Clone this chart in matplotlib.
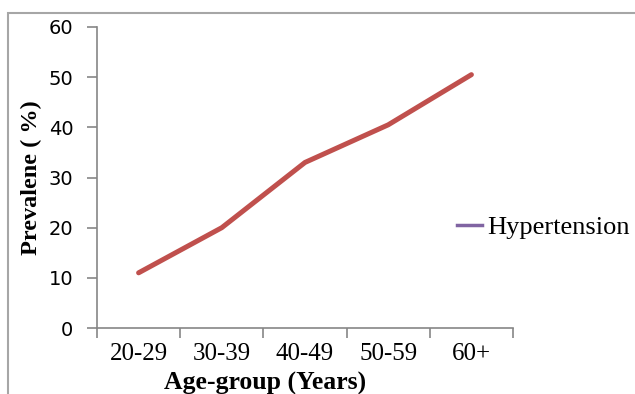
import matplotlib
matplotlib.use('Agg')
from matplotlib import pyplot as plt
from matplotlib.patches import Rectangle
from matplotlib.lines import Line2D

age_groups = ['20-29', '30-39', '40-49', '50-59', '60+']
prevalence = [11, 20, 33, 40.5, 50.5]

fig = plt.figure(figsize=(6.35, 3.94), dpi=100)
fig.patch.set_facecolor('white')

# outer chart frame (runs off the right and bottom edges)
frame = Rectangle((8 / 635, -0.1), 1.0, 1 - 13 / 394 + 0.1, transform=fig.transFigure,
                  fill=False, edgecolor='#a6a6a6', linewidth=1.5)
fig.patches.append(frame)

ax = fig.add_axes([97 / 635, 1 - 328 / 394, 416 / 635, 301 / 394])
x = range(len(age_groups))
ax.plot(x, prevalence, color='#c0504d', linewidth=3.6, solid_capstyle='round')

ax.set_xlim(-0.5, len(age_groups) - 0.5)
ax.set_ylim(0, 60)
ax.set_yticks(range(0, 61, 10))
ax.set_xticks([i - 0.5 for i in range(len(age_groups) + 1)], minor=False)
ax.set_xticklabels([])
ax.set_xticks(list(x), minor=True)
ax.set_xticklabels(age_groups, minor=True, fontfamily='Liberation Serif', fontsize=18)
ax.tick_params(axis='x', which='minor', length=0, pad=11)
ax.tick_params(axis='x', which='major', length=7, color='#868686', width=1.2)
ax.tick_params(axis='y', length=7, color='#868686', width=1.2, labelsize=14, pad=10)
for lbl in ax.get_yticklabels():
    lbl.set_fontfamily('DejaVu Sans')

for side in ['top', 'right']:
    ax.spines[side].set_visible(False)
for side in ['left', 'bottom']:
    ax.spines[side].set_color('#868686')
    ax.spines[side].set_linewidth(1.2)

# x label sits left of centre and is clipped by the bottom edge, as in the original
ax.set_xlabel('Age-group (Years)', fontfamily='Liberation Serif', fontweight='bold',
              fontsize=18.5)
ax.xaxis.set_label_coords((265 - 97) / 416, -(390 - 328) / 301)
ax.xaxis.label.set_verticalalignment('baseline')
ax.set_ylabel('Prevalene ( %)', fontfamily='Liberation Serif', fontweight='bold',
              fontsize=17.5)
ax.yaxis.set_label_coords(-(97 - 42) / 416, 0.5)

handle = Line2D([], [], color='#8064a2', linewidth=2.5)
fig.legend([handle], ['Hypertension'], loc='center left',
           bbox_to_anchor=(457 / 635, 1 - 227 / 394), frameon=False,
           prop={'family': 'Liberation Serif', 'size': 19},
           handlelength=0.95, handletextpad=0.2, borderpad=0, borderaxespad=0)

fig.savefig('out.png', dpi=100)
